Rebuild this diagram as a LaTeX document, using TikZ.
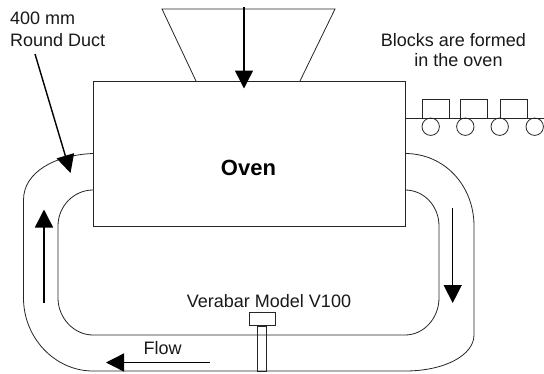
\documentclass[tikz,border=0pt]{standalone}
\usepackage{fontspec}
\setmainfont{Liberation Sans}
\usetikzlibrary{arrows.meta,positioning}
\tikzset{
  thin line/.style={line width=0.8pt,draw=black!85},
  flow arrow/.style={line width=1.4pt,draw=black,-{Triangle[length=18pt,width=18pt,fill=black]},shorten >=0pt},
  label text/.style={font=\fontsize{18}{21}\selectfont,inner sep=0pt,anchor=base,text=black!90},
  boxnode/.style={thin line,rectangle,inner sep=0pt,minimum width=#1},
  roller/.style={thin line,circle,inner sep=0pt,minimum size=17.4pt}
}
\begin{document}
\begin{tikzpicture}[x=1pt,y=-1pt]
\useasboundingbox (0,0) rectangle (544,373);
\fill[white] (0,0) rectangle (544,373);
% oven
\node[thin line,rectangle,inner sep=0pt,minimum width=312pt,minimum height=145.5pt] (oven) at (249,153.75) {};
\node[font=\fontsize{22}{24}\selectfont\bfseries,inner sep=0pt,anchor=base] (ovenlabel) at (248.5,175) {Oven};
% hopper
\coordinate (hopTL) at (162,9);
\coordinate (hopTR) at (335,9);
\coordinate (hopBL) at (196,81);
\coordinate (hopBR) at (300,81);
\draw[thin line] (hopBL) -- (hopTL) -- (hopTR) -- (hopBR);
% duct outer
\draw[thin line] (93,153.5) .. controls (55,155) and (23.5,172) .. (23.5,200)
  -- (23.5,298) .. controls (23.5,338) and (55,371) .. (93,371)
  -- (405,371) .. controls (445,371) and (474,355) .. (474,335)
  -- (474,226) .. controls (474,186) and (445,153.5) .. (405,153.5);
% duct inner
\draw[thin line] (93,190) .. controls (74,190) and (58,206) .. (58,226)
  -- (58,298) .. controls (58,318) and (74,335) .. (93,335)
  -- (405,335) .. controls (424,335) and (439,318) .. (439,298)
  -- (439,226) .. controls (439,206) and (424,190) .. (405,190);
% conveyor
\coordinate (beltL) at (405,118);
\coordinate (beltR) at (544,118);
\draw[thin line] (beltL) -- (beltR);
\node[boxnode=27pt,minimum height=19pt] (b1) at (435.5,108.5) {};
\node[boxnode=27pt,minimum height=19pt] (b2) at (474,108.5) {};
\node[boxnode=27pt,minimum height=19pt] (b3) at (513.5,108.5) {};
\node[roller] (r1) at (430.7,126.7) {};
\node[roller] (r2) at (465.3,126.7) {};
\node[roller] (r3) at (499.7,126.7) {};
\node[roller] (r4) at (534.7,126.7) {};
% verabar
\node[boxnode=26.5pt,minimum height=13.7pt] (vhead) at (262.2,318.9) {};
\coordinate (vb) at (262.2,371);
\node[thin line,rectangle,inner sep=0pt,minimum width=9pt,minimum height=45pt] (vstem) at (262.2,348.5) {};
% labels
\node[label text,anchor=base west] (l1) at (10,24) {400 mm};
\node[label text,anchor=base west] (l2) at (10,46) {Round Duct};
\node[label text] (l3) at (453.5,46) {Blocks are formed};
\node[label text] (l4) at (458.5,66.5) {in the oven};
\node[label text] (l5) at (269,307) {Verabar Model V100};
\node[label text,anchor=base west] (l6) at (143.5,354.7) {Flow};
% arrows
\coordinate (a1s) at (244,7); \coordinate (a1e) at (244,88.5);
\coordinate (a2s) at (35,54); \coordinate (a2e) at (70.5,173);
\coordinate (a3s) at (44,303); \coordinate (a3e) at (44,209.5);
\coordinate (a4s) at (452.7,208); \coordinate (a4e) at (452.7,303);
\coordinate (a5s) at (210,362.5); \coordinate (a5e) at (106,362.5);
\draw[flow arrow] (a1s) -- (a1e);
\draw[flow arrow] (a2s) -- (a2e);
\draw[flow arrow] (a3s) -- (a3e);
\draw[flow arrow] (a4s) -- (a4e);
\draw[flow arrow] (a5s) -- (a5e);
\end{tikzpicture}
\end{document}
